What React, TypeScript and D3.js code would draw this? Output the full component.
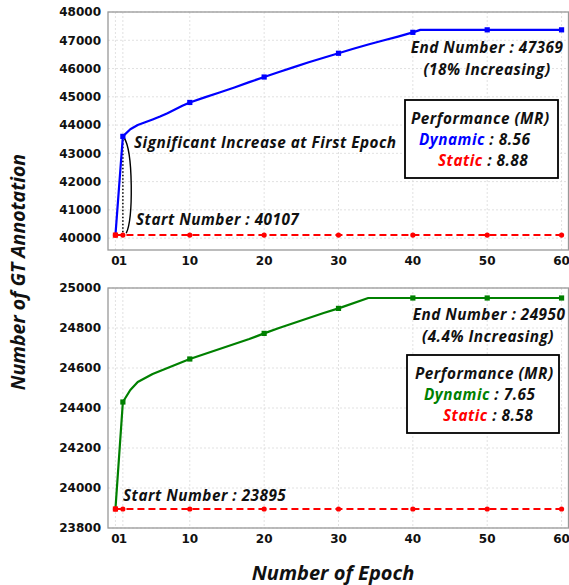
import React from "react";
import * as d3 from "d3";

// ---------- data ----------
const xTicks = [0, 1, 10, 20, 30, 40, 50, 60];
const xTickLabels = ["0", "1", "10", "20", "30", "40", "50", "60"];
const markerEpochs = [0, 1, 10, 20, 30, 40, 50, 60];

const topEpochs = [0, 1, 2, 3, 4, 5, 6, 7, 8, 9, 10, 12, 14, 16, 18, 20, 22, 24, 26, 28, 30, 32, 34, 36, 38, 40, 41, 50, 60];
const topDynamic = [40107, 43600, 43850, 44000, 44100, 44200, 44300, 44420, 44550, 44680, 44800, 44980, 45150, 45330, 45520, 45700, 45880, 46050, 46220, 46380, 46540, 46700, 46850, 46990, 47130, 47280, 47369, 47369, 47369];
const topStatic = 40107;
const topYTicks = [40000, 41000, 42000, 43000, 44000, 45000, 46000, 47000, 48000];

const botEpochs = [0, 1, 2, 3, 4, 5, 6, 7, 8, 9, 10, 12, 14, 16, 18, 20, 22, 24, 26, 28, 30, 34, 40, 50, 60];
const botDynamic = [23895, 24430, 24490, 24530, 24550, 24570, 24585, 24600, 24615, 24630, 24645, 24670, 24695, 24720, 24745, 24773, 24800, 24825, 24850, 24875, 24898, 24950, 24950, 24950, 24950];
const botStatic = 23895;
const botYTicks = [23800, 24000, 24200, 24400, 24600, 24800, 25000];

const W = 569;
const H = 585;
const LEFT = 108;
const RIGHT = 568.5;

const tickFont = "'DejaVu Sans', sans-serif";
const annFont = "'Open Sans', Lato, sans-serif";
const ANN = 15.3;

type PanelProps = {
  top: number;
  bottom: number;
  yDomain: [number, number];
  yTicks: number[];
  epochs: number[];
  dynamic: number[];
  staticVal: number;
  color: string;
  children?: (x: d3.ScaleLinear<number, number>, y: d3.ScaleLinear<number, number>) => React.ReactNode;
};

function Panel({ top, bottom, yDomain, yTicks, epochs, dynamic, staticVal, color, children }: PanelProps) {
  const x = d3.scaleLinear().domain([-1, 61]).range([LEFT, LEFT + 461]);
  const y = d3.scaleLinear().domain(yDomain).range([bottom, top]);
  const line = d3
    .line<number>()
    .x((_, i) => x(epochs[i]))
    .y((d) => y(d));
  const dynPath = line(dynamic) || "";
  const dynMarkers = markerEpochs.map((e) => {
    const idx = epochs.indexOf(e);
    return { e, v: dynamic[idx] };
  });
  const staticPath = d3
    .line<number>()
    .x((d) => x(d))
    .y(() => y(staticVal))(markerEpochs) || "";
  return (
    <g>
      {/* grid */}
      {xTicks.map((t) => (
        <line key={"gx" + t} x1={x(t)} x2={x(t)} y1={top} y2={bottom} stroke="#d9d9d9" strokeWidth={0.8} strokeDasharray="2,2" />
      ))}
      {yTicks.map((t) => (
        <line key={"gy" + t} x1={LEFT} x2={RIGHT} y1={y(t)} y2={y(t)} stroke="#d9d9d9" strokeWidth={0.8} strokeDasharray="2,2" />
      ))}
      {/* frame */}
      <rect x={LEFT} y={top} width={RIGHT - LEFT} height={bottom - top} fill="none" stroke="#999" strokeWidth={1.3} />
      {/* tick labels */}
      {yTicks.map((t) => (
        <text key={"yl" + t} x={LEFT - 7} y={y(t)} dy="0.36em" textAnchor="end" fontFamily={tickFont} fontWeight="bold" fontSize={12} fill="#111">
          {t}
        </text>
      ))}
      {xTicks.map((t, i) => (
        <text key={"xl" + t} x={x(t)} y={bottom + 6} dy="0.71em" textAnchor="middle" fontFamily={tickFont} fontWeight="bold" fontSize={12} fill="#111">
          {xTickLabels[i]}
        </text>
      ))}
      {children && children(x, y)}
      {/* dynamic */}
      <path d={dynPath} fill="none" stroke={color} strokeWidth={2.2} strokeLinejoin="round" />
      {dynMarkers.map((m) => (
        <rect key={"dm" + m.e} x={x(m.e) - 2.6} y={y(m.v) - 2.6} width={5.2} height={5.2} fill={m.v === staticVal ? "#ff0000" : color} />
      ))}
      {/* static */}
      <path d={staticPath} fill="none" stroke="#ff0000" strokeWidth={2} strokeDasharray="7,4" />
      {markerEpochs.map((e) => (
        <circle key={"sm" + e} cx={x(e)} cy={y(staticVal)} r={2.6} fill="#ff0000" />
      ))}
    </g>
  );
}

const annStyle = {
  fontFamily: annFont,
  fontWeight: "bold" as const,
  fontStyle: "italic" as const,
  fontSize: ANN,
  letterSpacing: 0.5,
  fill: "#111",
};

export default function App() {
  return (
    <svg width={W} height={H} style={{ position: "absolute", left: 0, top: 0, background: "#fff" }}>
      <Panel
        top={12}
        bottom={250}
        yDomain={[39580, 48000]}
        yTicks={topYTicks}
        epochs={topEpochs}
        dynamic={topDynamic}
        staticVal={topStatic}
        color="#0000ff"
      >
        {(x, y) => (
          <g>
            <line x1={x(1)} x2={x(1)} y1={y(43600)} y2={y(40107)} stroke="#000" strokeWidth={1.5} strokeDasharray="1.5,2" />
            <path
              d={`M${x(1.15)},${y(43560)} C${x(2.4)},${y(43050)} ${x(2.4)},${y(40700)} ${x(1.45)},${y(40170)}`}
              fill="none"
              stroke="#000"
              strokeWidth={1.4}
            />
            <text x={134} y={143} dy="0.35em" {...annStyle}>
              Significant Increase at First Epoch
            </text>
            <text x={136} y={220} dy="0.35em" {...annStyle}>
              Start Number : 40107
            </text>
            <text x={487} y={48} dy="0.35em" textAnchor="middle" {...annStyle}>
              End Number : 47369
            </text>
            <text x={487} y={70} dy="0.35em" textAnchor="middle" {...annStyle}>
              (18% Increasing)
            </text>
            <rect x={405} y={100} width={153} height={78} fill="#fff" stroke="#000" strokeWidth={1.8} />
            <text x={411} y={119} dy="0.35em" {...annStyle}>
              Performance (MR)
            </text>
            <text x={419} y={140} dy="0.35em" {...annStyle}>
              <tspan fill="#0000ff">Dynamic</tspan> : 8.56
            </text>
            <text x={438} y={161} dy="0.35em" {...annStyle}>
              <tspan fill="#ff0000">Static</tspan> : 8.88
            </text>
          </g>
        )}
      </Panel>
      <Panel
        top={288}
        bottom={528}
        yDomain={[23800, 25000]}
        yTicks={botYTicks}
        epochs={botEpochs}
        dynamic={botDynamic}
        staticVal={botStatic}
        color="#008000"
      >
        {() => (
          <g>
            <text x={123} y={496} dy="0.35em" {...annStyle}>
              Start Number : 23895
            </text>
            <text x={489} y={315} dy="0.35em" textAnchor="middle" {...annStyle}>
              End Number : 24950
            </text>
            <text x={488} y={337} dy="0.35em" textAnchor="middle" {...annStyle}>
              (4.4% Increasing)
            </text>
            <rect x={407} y={355} width={152} height={78} fill="#fff" stroke="#000" strokeWidth={1.8} />
            <text x={415} y={374} dy="0.35em" {...annStyle}>
              Performance (MR)
            </text>
            <text x={424} y={395} dy="0.35em" {...annStyle}>
              <tspan fill="#008000">Dynamic</tspan> : 7.65
            </text>
            <text x={443} y={416} dy="0.35em" {...annStyle}>
              <tspan fill="#ff0000">Static</tspan> : 8.58
            </text>
          </g>
        )}
      </Panel>
      <text
        transform="translate(18,272) rotate(-90)"
        textAnchor="middle"
        dy="0.35em"
        fontFamily={annFont}
        fontWeight="bold"
        fontStyle="italic"
        fontSize={19.5}
        fill="#111"
      >
        Number of GT Annotation
      </text>
      <text x={333} y={573} dy="0.35em" textAnchor="middle" fontFamily={annFont} fontWeight="bold" fontStyle="italic" fontSize={20} fill="#111">
        Number of Epoch
      </text>
    </svg>
  );
}
